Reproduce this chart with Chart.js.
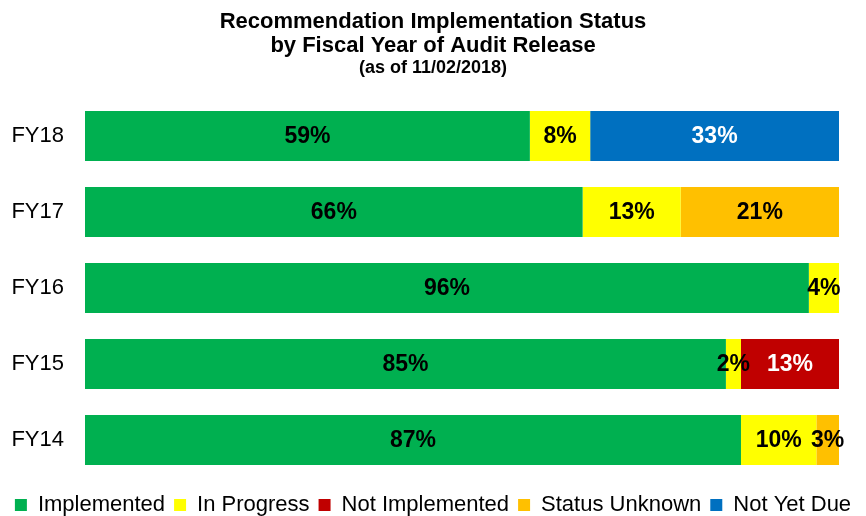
<!DOCTYPE html>
<html>
<head>
<meta charset="utf-8">
<script src="https://cdn.jsdelivr.net/npm/chart.js@4"></script>
<style>
    body { margin: 0; background: #fff; }
    #caixa { width: 866px; height: 516px; }
</style>
</head>
<body>
<div id="caixa"><canvas id="grafico"></canvas></div>
<script>
// Categorias (anos fiscais) e valores de cada status, em %
const anos = ['FY18', 'FY17', 'FY16', 'FY15', 'FY14'];
const implementado = [59, 66, 96, 85, 87];
const emAndamento = [8, 13, 4, 2, 10];
const naoImplementado = [0, 0, 0, 13, 0];
const statusDesconhecido = [0, 21, 0, 0, 3];
const aindaNaoVencido = [33, 0, 0, 0, 0];

const fonte = '"Liberation Sans", Arial, sans-serif';

// Rótulos de porcentagem no meio de cada segmento
const rotulosPlugin = {
    id: 'rotulos',
    afterDatasetsDraw(chart) {
        const ctx = chart.ctx;
        ctx.save();
        ctx.font = 'bold 23px ' + fonte;
        ctx.textAlign = 'center';
        ctx.textBaseline = 'middle';
        chart.data.datasets.forEach(function (ds, i) {
            const meta = chart.getDatasetMeta(i);
            meta.data.forEach(function (bar, j) {
                const valor = ds.data[j];
                if (!valor) return;
                const centro = bar.getCenterPoint();
                ctx.fillStyle = ds.corTexto;
                ctx.fillText(valor + '%', centro.x, centro.y + 1);
            });
        });
        ctx.restore();
    }
};

const ctx = document.getElementById('grafico').getContext('2d');
new Chart(ctx, {
    type: 'bar',
    data: {
        labels: anos,
        datasets: [
            { label: 'Implemented', data: implementado, backgroundColor: '#00B050', corTexto: '#000' },
            { label: 'In Progress', data: emAndamento, backgroundColor: '#FFFF00', corTexto: '#000' },
            { label: 'Not Implemented', data: naoImplementado, backgroundColor: '#C00000', corTexto: '#fff' },
            { label: 'Status Unknown', data: statusDesconhecido, backgroundColor: '#FFC000', corTexto: '#000' },
            { label: 'Not Yet Due', data: aindaNaoVencido, backgroundColor: '#0070C0', corTexto: '#fff' }
        ].map(function (ds) {
            ds.yAxisID = 'y';
            ds.borderWidth = 0;
            ds.barPercentage = 1;
            ds.categoryPercentage = 50 / 76;
            return ds;
        })
    },
    options: {
        indexAxis: 'y',
        responsive: true,
        maintainAspectRatio: false,
        animation: false,
        layout: { padding: { top: 0, bottom: -10, left: 0, right: 0 } },
        scales: {
            x: {
                stacked: true,
                min: 0,
                max: 100,
                grid: { display: false, drawTicks: false },
                border: { display: false },
                ticks: { display: false },
                afterFit: function (s) { s.height = 7; }
            },
            y: {
                stacked: true,
                grid: { display: false, drawTicks: false },
                border: { display: false },
                ticks: {
                    color: '#000',
                    padding: 21,
                    font: { family: fonte, size: 22 }
                },
                afterFit: function (s) { s.width = 85; }
            },
            // eixo vazio só para deixar a margem da direita
            y2: {
                type: 'category',
                position: 'right',
                grid: { display: false, drawTicks: false },
                border: { display: false },
                ticks: { display: false },
                afterFit: function (s) { s.width = 27; }
            }
        },
        plugins: {
            title: {
                display: true,
                text: ['Recommendation Implementation Status', 'by Fiscal Year of Audit Release'],
                color: '#000',
                font: { family: fonte, size: 22, weight: 'bold', lineHeight: '24px' },
                padding: { top: 10, bottom: 0 }
            },
            subtitle: {
                display: true,
                text: '(as of 11/02/2018)',
                color: '#000',
                font: { family: fonte, size: 18, weight: 'bold', lineHeight: '20px' },
                padding: { top: 0, bottom: 20 }
            },
            legend: {
                position: 'bottom',
                labels: {
                    color: '#000',
                    boxWidth: 12,
                    boxHeight: 12,
                    padding: 9,
                    font: { family: fonte, size: 22 }
                }
            },
            tooltip: { enabled: false }
        }
    },
    plugins: [rotulosPlugin]
});
</script>
</body>
</html>
